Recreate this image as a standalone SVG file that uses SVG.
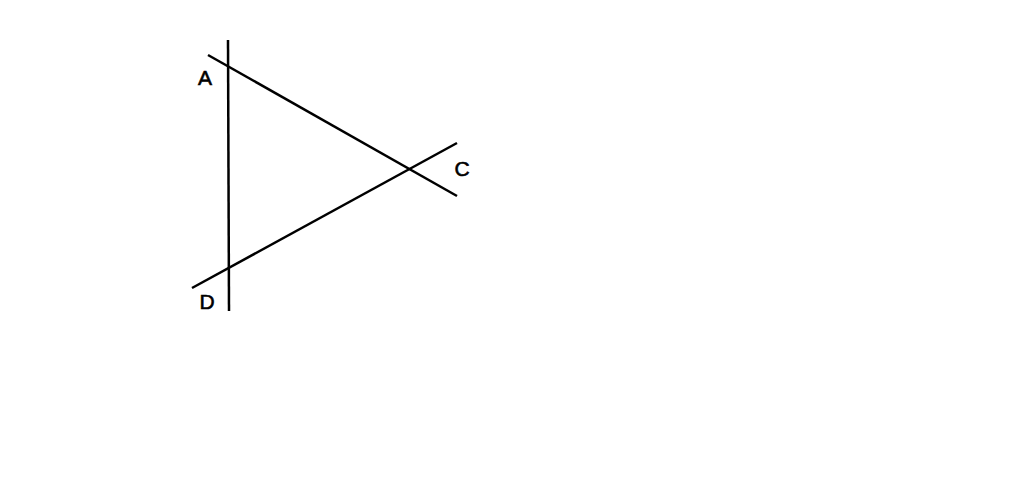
<svg xmlns="http://www.w3.org/2000/svg" width="1024" height="490" viewBox="0 0 1024 490">
<style>
.ln{stroke:#000;stroke-width:2.5;fill:none;stroke-linecap:butt}
.lb{font-family:"Liberation Sans",Arial,sans-serif;font-size:21px;fill:#000;stroke:#000;stroke-width:0.6;text-anchor:middle}
</style>
<rect width="1024" height="490" fill="#fff"/>
<g id="connectors">
<line class="ln" x1="228" y1="40" x2="229" y2="311"/>
<line class="ln" x1="208" y1="55" x2="457" y2="196"/>
<line class="ln" x1="192" y1="288" x2="457" y2="143"/>
</g>
<g id="A"><text class="lb" x="205" y="85">A</text></g>
<g id="C"><text class="lb" x="462" y="176">C</text></g>
<g id="D"><text class="lb" x="207" y="309">D</text></g>
</svg>
